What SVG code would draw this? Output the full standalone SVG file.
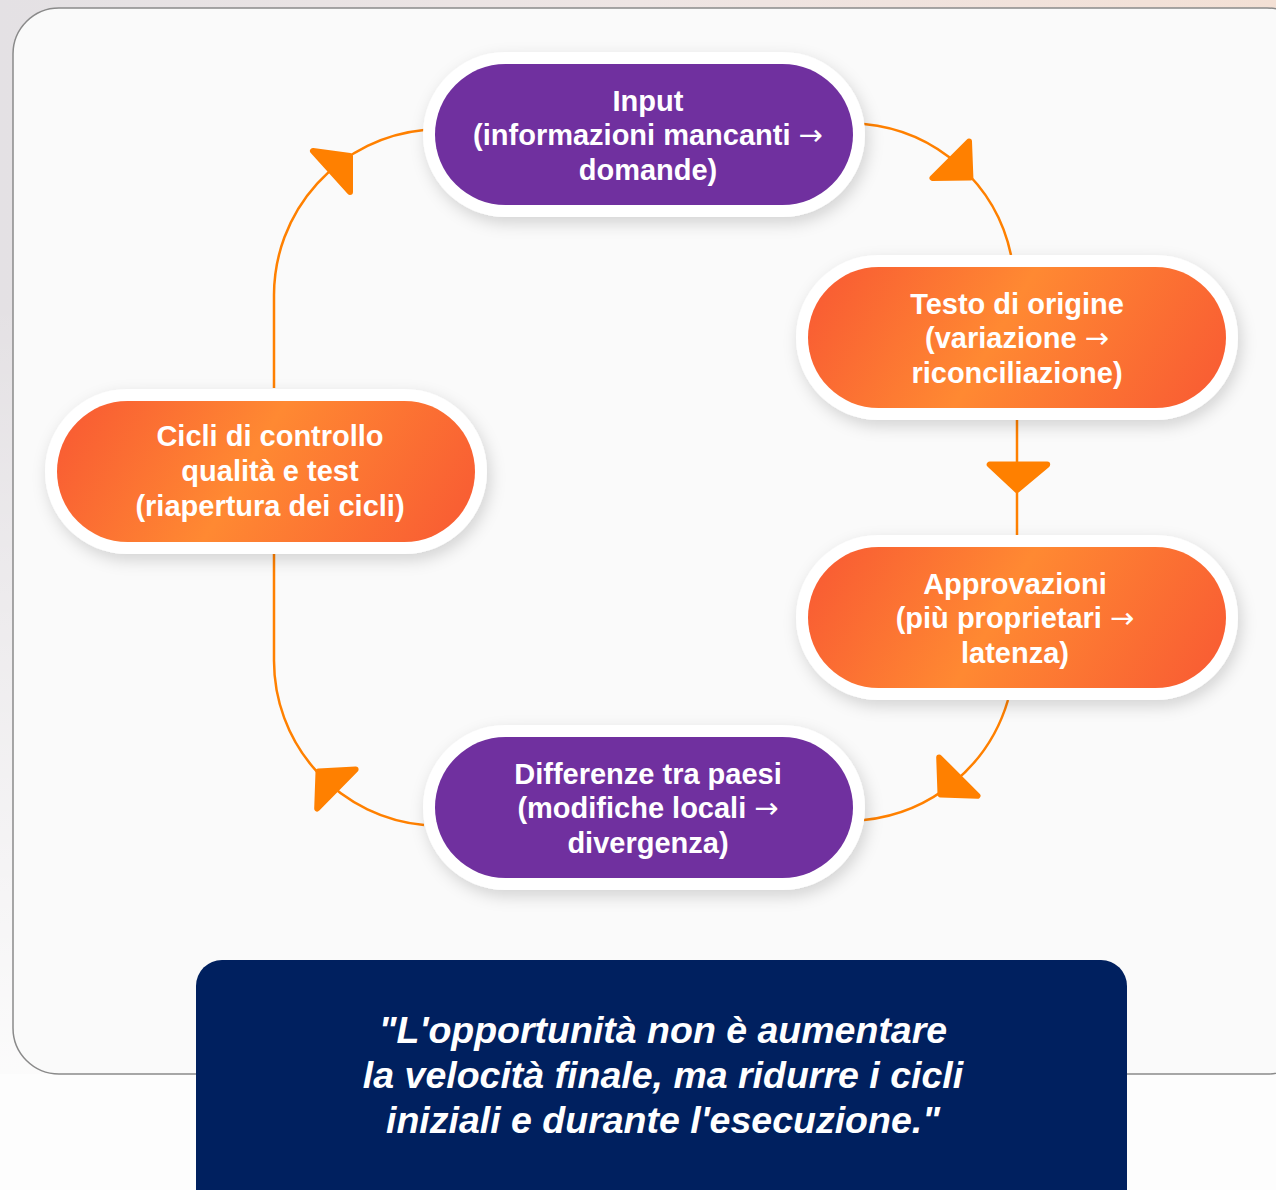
<svg xmlns="http://www.w3.org/2000/svg" width="1276" height="1190" viewBox="0 0 1276 1190">
  <defs>
    <linearGradient id="bg" x1="0" y1="0" x2="1" y2="0">
      <stop offset="0" stop-color="#e4e1e4"/>
      <stop offset="0.5" stop-color="#eee5e4"/>
      <stop offset="1" stop-color="#f3e0d5"/>
    </linearGradient>
    <linearGradient id="bgfade" x1="0" y1="0" x2="0" y2="1">
      <stop offset="0" stop-color="#ffffff" stop-opacity="0"/>
      <stop offset="1" stop-color="#ffffff" stop-opacity="1"/>
    </linearGradient>
    <linearGradient id="orange" x1="0" y1="0.4" x2="1" y2="0.6">
      <stop offset="0" stop-color="#f95f33"/>
      <stop offset="0.45" stop-color="#ff8932"/>
      <stop offset="1" stop-color="#f95f33"/>
    </linearGradient>
    <filter id="shadow" x="-20%" y="-30%" width="140%" height="160%">
      <feDropShadow dx="3" dy="6" stdDeviation="8" flood-color="#000000" flood-opacity="0.16"/>
    </filter>
  </defs>
  <style>
    .halo { fill: #ffffff; filter: url(#shadow); }
    .purple { fill: #70309f; }
    .orange { fill: url(#orange); }
    .label { font-family: "Liberation Sans", Arial, sans-serif; font-weight: bold; font-size: 29px; fill: #ffffff; text-anchor: middle; }
    .arr { font-family: "DejaVu Sans", sans-serif; font-weight: normal; }
    .quote { font-family: "Liberation Sans", Arial, sans-serif; font-weight: bold; font-style: italic; font-size: 37.5px; fill: #ffffff; text-anchor: middle; }
    .conn { fill: none; stroke: #ff8000; stroke-width: 2.5; }
    .head { fill: #ff8000; stroke: #ff8000; stroke-width: 6; stroke-linejoin: round; }
  </style>

  <!-- background -->
  <rect x="0" y="0" width="1276" height="1190" fill="url(#bg)"/>
  <rect x="0" y="300" width="1276" height="890" fill="url(#bgfade)"/>
  <rect x="0" y="1074" width="1276" height="116" fill="#fdfdfd"/>

  <!-- panel -->
  <rect x="13" y="8" width="1300" height="1066" rx="46" ry="46" fill="#fafafa" stroke="#8a8a8a" stroke-width="1.5"/>

  <!-- connectors -->
  <g id="connectors">
    <path class="conn" d="M 864,124 A 166 166 0 0 1 1011,255"/>
    <path class="conn" d="M 1017,420 L 1017,535"/>
    <path class="conn" d="M 1008,700 A 168 168 0 0 1 864,820"/>
    <path class="conn" d="M 424,825 A 165 165 0 0 1 274,660 L 274,554"/>
    <path class="conn" d="M 274,388 L 274,295 A 166 166 0 0 1 424,130"/>
    <polygon class="head" points="313,151 350,156 350,192"/>
    <polygon class="head" points="969,141.5 932.5,178 970.4,177.6"/>
    <polygon class="head" points="989.7,464.6 1047.2,464.6 1017,490"/>
    <polygon class="head" points="939.2,757.5 977.5,795.8 940.5,794.5"/>
    <polygon class="head" points="318.5,771.5 355.6,769.4 317.2,808.5"/>
  </g>

  <!-- nodes -->
  <g id="node-input">
    <rect class="halo" x="423" y="52" width="442" height="165" rx="82.5"/>
    <rect class="purple" x="435" y="64" width="418" height="141" rx="70.5"/>
    <text class="label" x="648" y="111">Input</text>
    <text class="label" x="648" y="145">(informazioni mancanti <tspan class="arr">→</tspan></text>
    <text class="label" x="648" y="180">domande)</text>
  </g>

  <g id="node-testo">
    <rect class="halo" x="796" y="255" width="442" height="165" rx="82.5"/>
    <rect class="orange" x="808" y="267" width="418" height="141" rx="70.5"/>
    <text class="label" x="1017" y="314">Testo di origine</text>
    <text class="label" x="1017" y="348">(variazione <tspan class="arr">→</tspan></text>
    <text class="label" x="1017" y="383">riconciliazione)</text>
  </g>

  <g id="node-approvazioni">
    <rect class="halo" x="796" y="535" width="442" height="165" rx="82.5"/>
    <rect class="orange" x="808" y="547" width="418" height="141" rx="70.5"/>
    <text class="label" x="1015" y="594">Approvazioni</text>
    <text class="label" x="1015" y="628">(più proprietari <tspan class="arr">→</tspan></text>
    <text class="label" x="1015" y="663">latenza)</text>
  </g>

  <g id="node-differenze">
    <rect class="halo" x="423" y="725" width="442" height="165" rx="82.5"/>
    <rect class="purple" x="435" y="737" width="418" height="141" rx="70.5"/>
    <text class="label" x="648" y="784">Differenze tra paesi</text>
    <text class="label" x="648" y="818">(modifiche locali <tspan class="arr">→</tspan></text>
    <text class="label" x="648" y="853">divergenza)</text>
  </g>

  <g id="node-cicli">
    <rect class="halo" x="45" y="389" width="442" height="165" rx="82.5"/>
    <rect class="orange" x="57" y="401" width="418" height="141" rx="70.5"/>
    <text class="label" x="270" y="446">Cicli di controllo</text>
    <text class="label" x="270" y="481">qualità e test</text>
    <text class="label" x="270" y="516">(riapertura dei cicli)</text>
  </g>

  <!-- quote -->
  <g id="quote">
    <rect x="196" y="960" width="931" height="260" rx="26" fill="#00205f"/>
    <text class="quote" x="663" y="1043">"L'opportunità non è aumentare</text>
    <text class="quote" x="663" y="1088">la velocità finale, ma ridurre i cicli</text>
    <text class="quote" x="663" y="1133">iniziali e durante l'esecuzione."</text>
  </g>
</svg>
